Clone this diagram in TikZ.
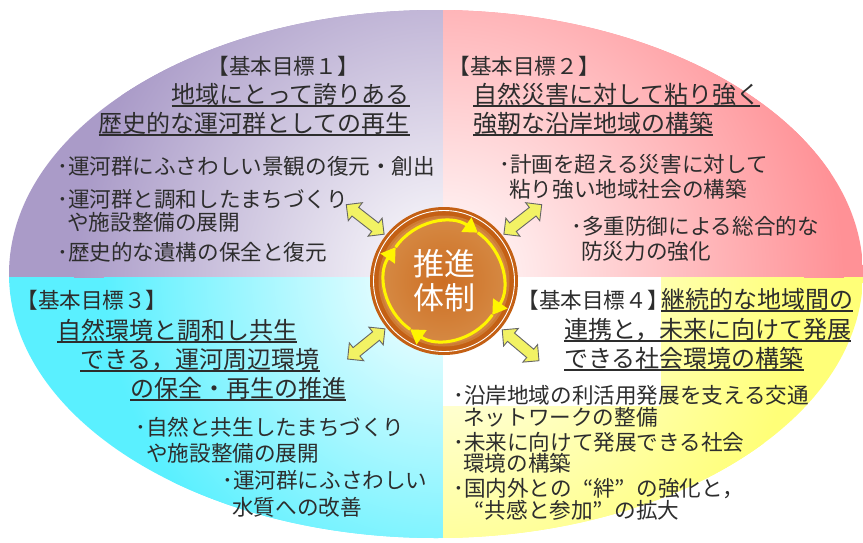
\documentclass[tikz,border=0pt]{standalone}
\usepackage{fontspec}
\setmainfont{Noto Sans CJK JP}
\usetikzlibrary{arrows.meta,shapes.arrows,calc}
\definecolor{goalP}{RGB}{170,155,200}
\definecolor{goalR}{RGB}{255,145,150}
\definecolor{goalC}{RGB}{90,240,255}
\definecolor{goalY}{RGB}{255,255,120}
\definecolor{hubD}{RGB}{196,96,20}
\definecolor{hubM}{RGB}{205,110,35}
\definecolor{hubT}{RGB}{222,165,100}
\definecolor{ringY}{RGB}{255,245,0}
\definecolor{arrY}{RGB}{242,242,100}
\definecolor{txt}{RGB}{45,45,45}
\tikzset{
  lab/.style={font=\fontsize{21.6}{24}\selectfont,text=txt,inner sep=0pt,anchor=base},
  hdr/.style={font=\fontsize{24}{28}\selectfont,text=txt,inner sep=0pt},
  bul/.style={font=\fontsize{21.6}{24}\selectfont,text=txt,inner sep=0pt,anchor=base west},
  dblarr/.style={double arrow,draw=black!60,fill=arrY,line width=0.9pt,inner xsep=0pt,inner ysep=5pt,
    minimum height=48pt,double arrow head extend=6pt},
  hubtxt/.style={font=\fontsize{31}{34}\selectfont,text=white,align=center,inner sep=0pt}
}
\newcommand{\undl}[1]{\setbox0\hbox{#1}\rlap{\rule[-3.6pt]{\wd0}{1.2pt}}\box0}
\newcommand{\jq}[1]{\makebox[1em][r]{“}#1\makebox[1em][l]{”}}

\begin{document}
\begin{tikzpicture}[x=1pt,y=1pt]
  \useasboundingbox (0,0) rectangle (863,-542);
  % Quadrant backgrounds
  \begin{scope}
    \clip (436,-274) ellipse [x radius=427, y radius=264];
    \fill[goalP] (0,0) rectangle (443,-277);
    \fill[goalR] (443,0) rectangle (863,-277);
    \fill[goalC] (0,-277) rectangle (443,-542);
    \fill[goalY] (443,-277) rectangle (863,-542);
    \begin{scope}
      \clip (0,0) rectangle (443,-277);
      \shade[inner color=white, outer color=goalP] (444,-277) circle (370);
    \end{scope}
    \begin{scope}
      \clip (443,0) rectangle (863,-277);
      \shade[inner color=white, outer color=goalR] (444,-277) circle (400);
    \end{scope}
    \begin{scope}
      \clip (0,-277) rectangle (443,-542);
      \shade[inner color=white, outer color=goalC] (444,-277) circle (340);
    \end{scope}
    \begin{scope}
      \clip (443,-277) rectangle (863,-542);
      \shade[inner color=white, outer color=goalY] (444,-277) circle (360);
    \end{scope}
    \fill[white] (443,-277) rectangle (661,-406);
  \end{scope}

  % Hub
  \coordinate (c) at (444,-281);
  \fill[hubD] (c) circle (74);
  \draw[white, line width=0.9pt] (c) circle (70.5);
  \fill[hubT!40!hubD] (c) circle (65.5);
  \begin{scope}
    \clip (c) circle (63);
    \shade[inner color=hubM, outer color=hubT] (c) circle (126);
  \end{scope}
  \foreach \a in {145,55,-35,-125}
    \draw[ringY, line width=3pt, -{Triangle[length=14pt,width=17pt]}]
      ($(c)+(\a:59)$) arc[start angle=\a, end angle=\a-90, radius=59];
  \node[hubtxt] (hub) at (c) {推進\\体制};

  % Double arrows
  \foreach \a/\n in {142/NW,38/NE,219/SW,320/SE}
    \node[dblarr, rotate=\a] (arr\n) at ($(c)+(\a:100)$) {};

  % Goal 1
  \node[lab] (g1) at (283,-74) {【基本目標１】};
  \node[hdr, anchor=base east] (h1a) at (410,-103) {\undl{地域にとって誇りある}};
  \node[hdr, anchor=base east] (h1b) at (410,-132) {\undl{歴史的な運河群としての再生}};
  \node[bul] (b1a) at (57,-174) {･運河群にふさわしい景観の復元・創出};
  \node[bul] (b1b) at (57,-207) {･運河群と調和したまちづくり};
  \node[bul] (b1c) at (67,-230) {や施設整備の展開};
  \node[bul] (b1d) at (57,-260) {･歴史的な遺構の保全と復元};

  % Goal 2
  \node[lab] (g2) at (524,-74) {【基本目標２】};
  \node[hdr, anchor=base west] (h2a) at (473,-103) {\undl{自然災害に対して粘り強く}};
  \node[hdr, anchor=base west] (h2b) at (473,-132) {\undl{強靭な沿岸地域の構築}};
  \node[bul] (b2a) at (499,-172) {･計画を超える災害に対して};
  \node[bul] (b2b) at (509,-197) {粘り強い地域社会の構築};
  \node[bul] (b2c) at (571,-234) {･多重防御による総合的な};
  \node[bul] (b2d) at (581,-259) {防災力の強化};

  % Goal 3
  \node[lab] (g3) at (92,-308) {【基本目標３】};
  \node[hdr, anchor=base west] (h3a) at (57,-339) {\undl{自然環境と調和し共生}};
  \node[hdr, anchor=base west] (h3b) at (80,-368) {\undl{できる，運河周辺環境}};
  \node[hdr, anchor=base west] (h3c) at (130,-397) {\undl{の保全・再生の推進}};
  \node[bul] (b3a) at (135,-435) {･自然と共生したまちづくり};
  \node[bul] (b3b) at (146,-461) {や施設整備の展開};
  \node[bul] (b3c) at (222,-488) {･運河群にふさわしい};
  \node[bul] (b3d) at (232,-515) {水質への改善};

  % Goal 4
  \node[lab] (g4) at (593,-308) {【基本目標４】};
  \node[hdr, anchor=base west] (h4a) at (661,-308) {\undl{継続的な地域間の}};
  \node[hdr, anchor=base west] (h4b) at (564,-338) {\undl{連携と，未来に向けて発展}};
  \node[hdr, anchor=base west] (h4c) at (564,-367) {\undl{できる社会環境の構築}};
  \node[bul] (b4a) at (453,-403) {･沿岸地域の利活用発展を支える交通};
  \node[bul] (b4b) at (463,-425) {ネットワークの整備};
  \node[bul] (b4c) at (453,-450) {･未来に向けて発展できる社会};
  \node[bul] (b4d) at (463,-471) {環境の構築};
  \node[bul] (b4e) at (453,-496) {･国内外との\jq{絆}の強化と，};
  \node[bul] (b4f) at (463,-518) {\jq{共感と参加}の拡大};
\end{tikzpicture}
\end{document}
